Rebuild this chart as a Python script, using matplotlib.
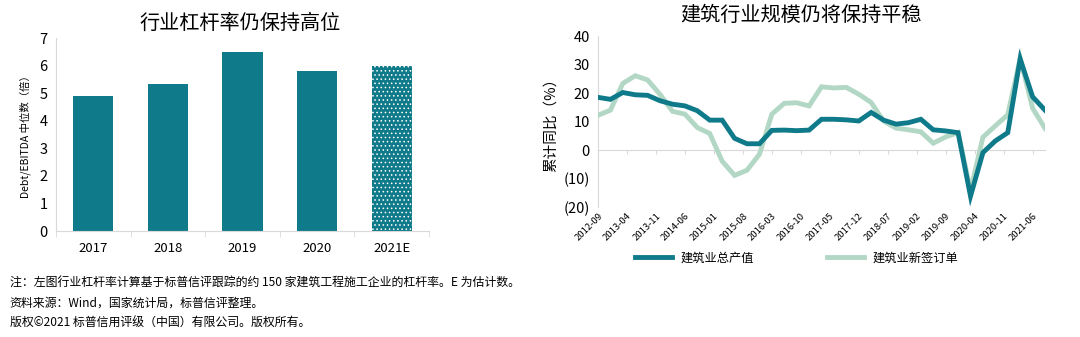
import numpy as np
import matplotlib.pyplot as plt

plt.rcParams['font.family'] = ['Noto Sans CJK SC', 'DejaVu Sans']
plt.rcParams['hatch.linewidth'] = 0.6

TEAL = '#0f7a8a'
MINT = '#b3d7c5'
GREY = '#d9d9d9'

# 左图：杠杆率
years = ['2017', '2018', '2019', '2020', '2021E']
leverage = [4.9, 5.35, 6.5, 5.8, 6.0]

# 右图：季度累计同比（2012-09 ~ 2021-09）
output_yoy = [18.5, 17.8, 20.2, 19.4, 19.2, 17.3, 16.1, 15.5, 13.8, 10.5,
              10.5, 4.1, 2.2, 2.2, 6.9, 7.0, 6.8, 7.0, 10.8, 10.8,
              10.6, 10.2, 13.2, 10.5, 9.1, 9.6, 10.8, 7.1, 6.7, 6.1,
              -16.2, -0.9, 3.2, 6.1, 32.0, 18.7, 14.0]
orders_yoy = [12.2, 14.0, 23.4, 26.1, 24.6, 19.5, 13.6, 12.6, 7.9, 5.8,
              -3.9, -8.9, -7.1, -1.5, 12.6, 16.4, 16.6, 15.5, 22.2, 21.8,
              22.0, 19.6, 16.7, 10.2, 7.7, 7.1, 6.4, 2.4, 4.6, 6.1,
              -14.2, 4.5, 8.5, 12.4, 32.2, 14.7, 7.6]
month_labels = ['2012-09', '2013-04', '2013-11', '2014-06', '2015-01', '2015-08',
                '2016-03', '2016-10', '2017-05', '2017-12', '2018-07', '2019-02',
                '2019-09', '2020-04', '2020-11', '2021-06']

notes = ['注：左图行业杠杆率计算基于标普信评跟踪的约 150 家建筑工程施工企业的杠杆率。E 为估计数。',
         '资料来源：Wind，国家统计局，标普信评整理。',
         '版权©2021 标普信用评级（中国）有限公司。版权所有。']

fig = plt.figure(figsize=(10.8, 3.37), dpi=100)

# ---- 左图 ----
ax1 = fig.add_axes([0.0519, 0.3145, 0.3454, 0.5727])
xs = np.arange(len(years))
bars = ax1.bar(xs, leverage, width=0.54, color=TEAL, linewidth=0)
bars[-1].set_hatch('....')
bars[-1].set_edgecolor('white')
ax1.set_xlim(-0.5, len(years) - 0.5)
ax1.set_ylim(0, 7)
ax1.set_yticks(range(0, 8))
ax1.set_xticks(xs)
ax1.set_xticklabels(years)
ax1.set_xticks(np.arange(-0.5, len(years)), minor=True)
ax1.tick_params(axis='x', which='major', length=0, pad=8, labelsize=9.5)
ax1.tick_params(axis='x', which='minor', length=4, color=GREY)
ax1.tick_params(axis='y', length=0, labelsize=10.5, pad=6)
for s in ['top', 'right']:
    ax1.spines[s].set_visible(False)
ax1.spines['left'].set_color(GREY)
ax1.spines['bottom'].set_color(GREY)
ax1.set_ylabel('Debt/EBITDA 中位数（倍）', fontsize=7.5, labelpad=6)
fig.text(0.222, 0.93, '行业杠杆率仍保持高位', fontsize=14.5, ha='center', va='center')

# ---- 右图 ----
ax2 = fig.add_axes([0.5537, 0.3858, 0.4139, 0.507])
mx = np.arange(len(output_yoy)) * 3
ax2.plot(mx, orders_yoy, color=MINT, lw=3.5, solid_joinstyle='miter', label='建筑业新签订单', zorder=3)
ax2.plot(mx, output_yoy, color=TEAL, lw=3.5, solid_joinstyle='miter', label='建筑业总产值', zorder=4)
ax2.set_xlim(0, mx[-1])
ax2.set_ylim(-20, 40)
ax2.set_yticks(range(-20, 41, 10))
ax2.set_yticklabels(['(20)', '(10)', '0', '10', '20', '30', '40'])
ax2.tick_params(axis='y', length=0, labelsize=10.5, pad=6)
for s in ['top', 'right']:
    ax2.spines[s].set_visible(False)
ax2.spines['left'].set_color(GREY)
ax2.spines['bottom'].set_position(('data', 0))
ax2.spines['bottom'].set_color(GREY)
tick_pos = np.arange(len(month_labels)) * 7
ax2.set_xticks(tick_pos)
ax2.tick_params(axis='x', length=3, color=GREY, labelbottom=False)
sec = ax2.secondary_xaxis('bottom')
sec.set_xticks(tick_pos)
sec.set_xticklabels(month_labels, rotation=45, ha='right', rotation_mode='anchor', fontsize=6.8)
sec.tick_params(length=0, pad=3)
sec.spines['bottom'].set_visible(False)
ax2.set_ylabel('累计同比（%）', fontsize=10.5, labelpad=4)
fig.text(0.742, 0.955, '建筑行业规模仍将保持平稳', fontsize=14.5, ha='center', va='center')

h, l = ax2.get_legend_handles_labels()
fig.legend(h[::-1], l[::-1], loc='center', bbox_to_anchor=(0.7375, 0.234), ncol=2,
           frameon=False, fontsize=8.8, handlelength=3.0, columnspacing=6.0,
           handletextpad=0.7)

for i, t in enumerate(notes):
    fig.text(0.009, 0.16 - i * 0.058, t, fontsize=8.6, ha='left', va='center')

fig.savefig('out.png', dpi=100)
